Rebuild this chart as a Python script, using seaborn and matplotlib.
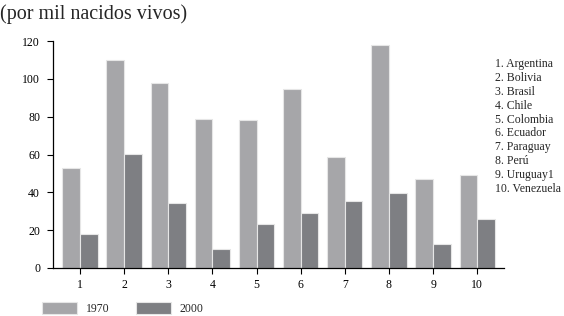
import matplotlib
matplotlib.use("Agg")
import matplotlib.pyplot as plt
import seaborn as sns
import pandas as pd

paises = ["Argentina", "Bolivia", "Brasil", "Chile", "Colombia",
          "Ecuador", "Paraguay", "Perú", "Uruguay1", "Venezuela"]
codigos = [str(i) for i in range(1, 11)]
tasa_1970 = [53, 110, 98, 79, 78, 94.5, 58.5, 118, 47, 49]
tasa_2000 = [18, 60.3, 34.3, 10, 23, 29.2, 35.3, 39.5, 12.8, 25.8]
anios = ["1970", "2000"]
colores = ["#a6a6a9", "#7e7f83"]

df = pd.DataFrame({
    "pais": codigos * 2,
    "anio": [anios[0]] * 10 + [anios[1]] * 10,
    "tasa": tasa_1970 + tasa_2000,
})

sns.set_style("ticks")
plt.rcParams["font.family"] = ["Liberation Serif", "DejaVu Serif"]

fig = plt.figure(figsize=(5.64, 3.16), dpi=100)
ax = fig.add_axes([0.094, 0.152, 0.80, 0.718])

sns.barplot(data=df, x="pais", y="tasa", hue="anio", palette=colores,
            edgecolor="#e6e6e6", linewidth=0.8, ax=ax, legend=False,
            saturation=1)

ax.set_ylim(0, 120)
ax.set_xlim(-0.61, 9.61)
ax.set_yticks(range(0, 121, 20))
ax.set_xlabel("")
ax.set_ylabel("")
ax.tick_params(axis="both", labelsize=8.5, length=4.3, width=0.8, colors="black")
ax.tick_params(axis="y", pad=5)
for s in ["top", "right"]:
    ax.spines[s].set_visible(False)
for s in ["left", "bottom"]:
    ax.spines[s].set_linewidth(0.9)
    ax.spines[s].set_color("black")

fig.text(0.0, 0.985, "(por mil nacidos vivos)", fontsize=14.5, va="top", ha="left")

lista = "\n".join(f"{i}. {p}" for i, p in enumerate(paises, start=1))
fig.text(0.877, 0.815, lista, fontsize=8.5, va="top", ha="left", linespacing=1.2)

handles = [plt.Rectangle((0, 0), 1, 1, facecolor=c, edgecolor="#e6e6e6", linewidth=0.8)
           for c in colores]
fig.legend(handles, anios, loc="lower left", bbox_to_anchor=(0.055, -0.03),
           ncol=2, frameon=False, fontsize=8.5, handlelength=3.0, handleheight=1.1,
           columnspacing=2.2, handletextpad=0.75)

fig.savefig("out.png", dpi=100)
